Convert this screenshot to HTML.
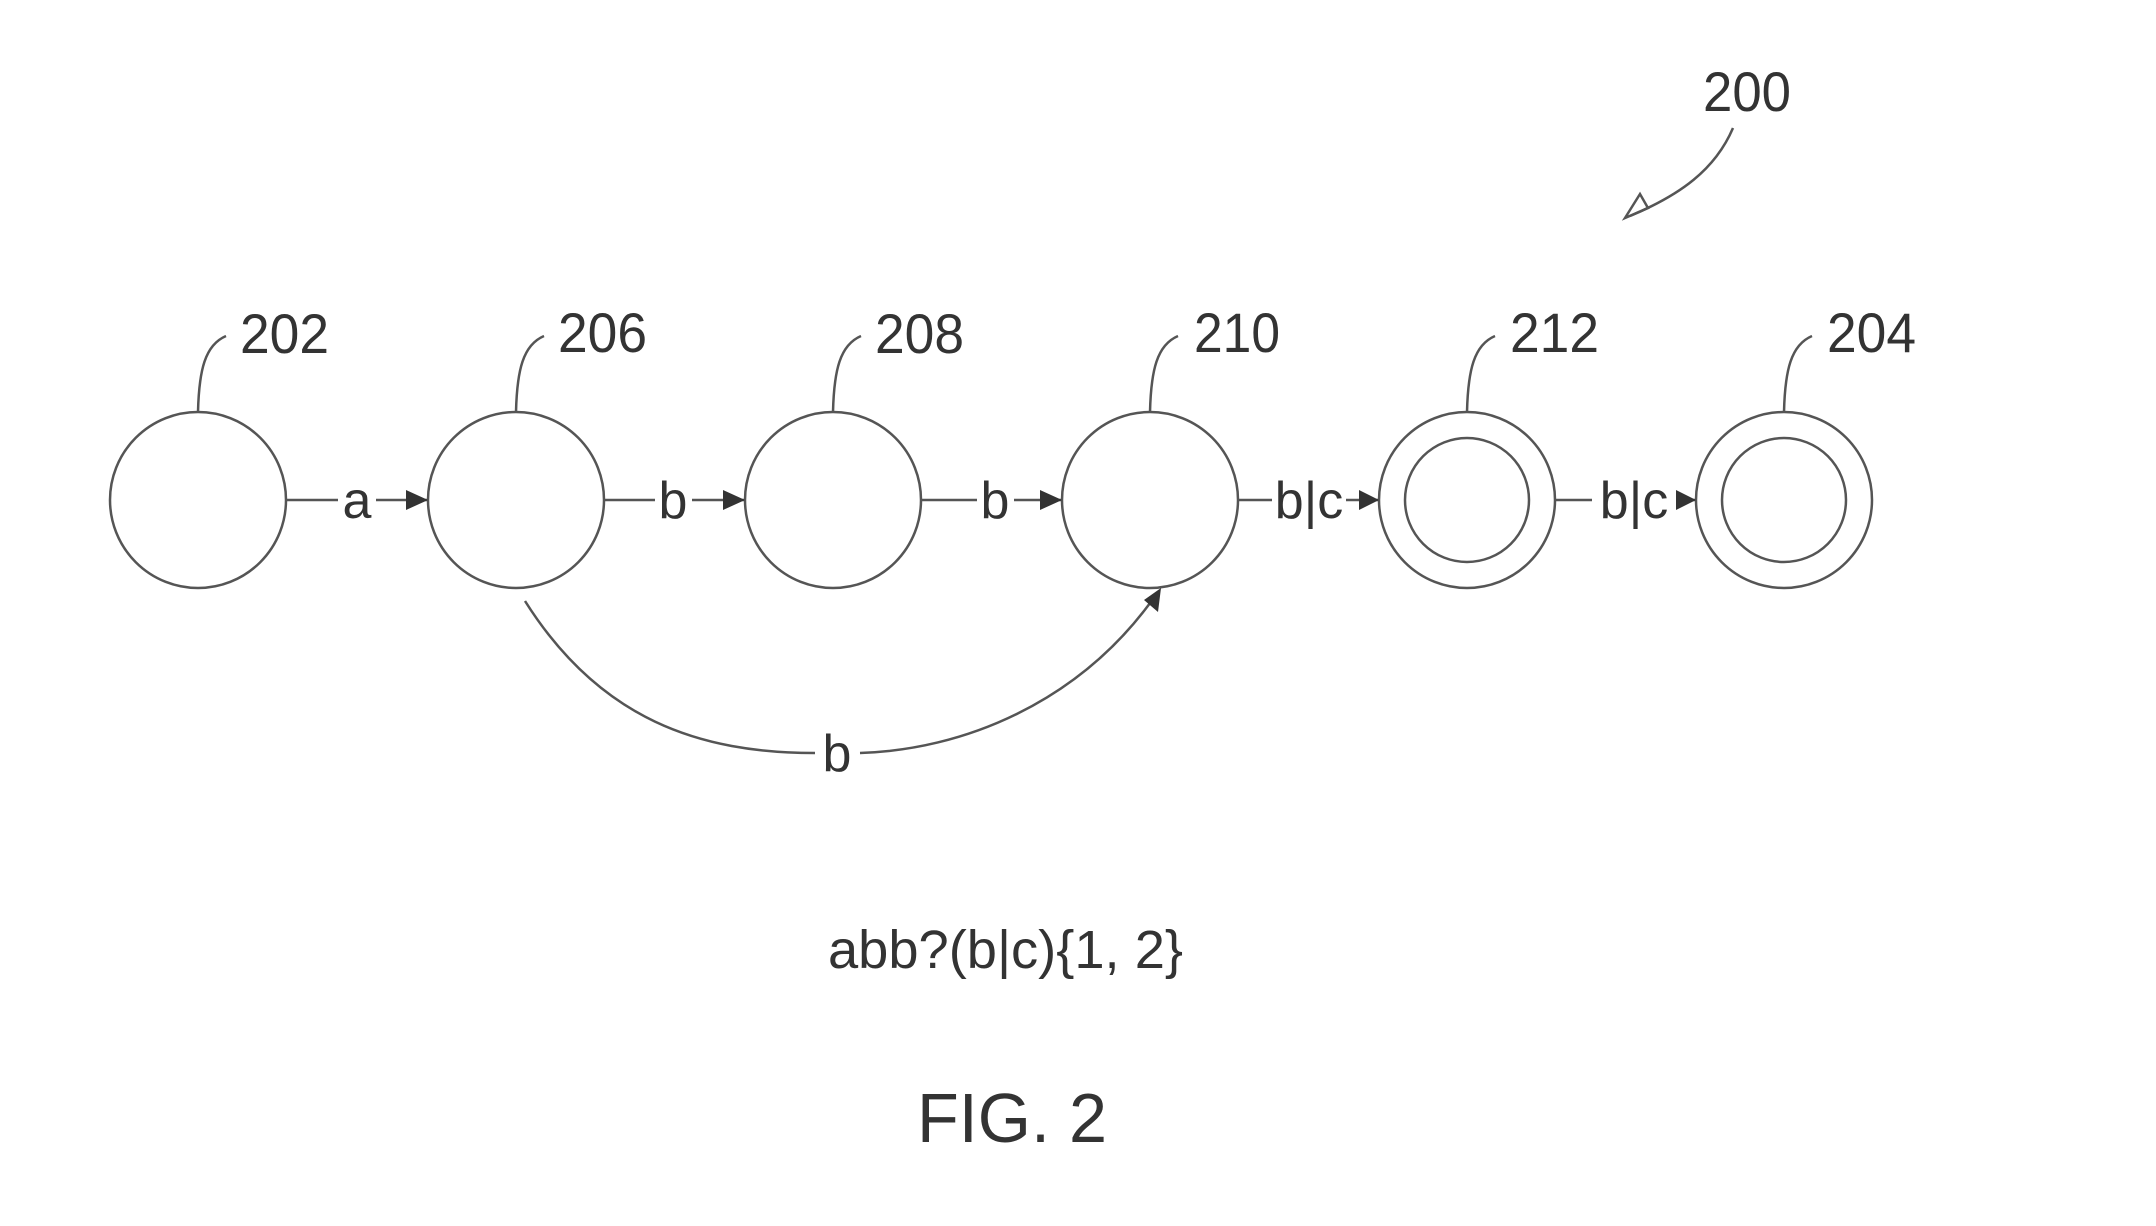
<!DOCTYPE html>
<html><head><meta charset="utf-8"><style>
html,body{margin:0;padding:0;background:#fff;}
svg{display:block;}
text{font-family:"Liberation Sans",Arial,sans-serif;fill:#333;}
</style></head><body>
<svg width="2156" height="1226" viewBox="0 0 2156 1226" xmlns="http://www.w3.org/2000/svg">
<defs>
<marker id="ah" markerWidth="10" markerHeight="10" refX="9" refY="5" orient="auto" markerUnits="userSpaceOnUse" viewBox="0 0 10 10">
<path d="M0,0 L10,5 L0,10 z" fill="#333"/>
</marker>
</defs>
<g fill="none" stroke="#555" stroke-width="2.5">
<circle cx="198" cy="500" r="88"/>
<circle cx="516" cy="500" r="88"/>
<circle cx="833" cy="500" r="88"/>
<circle cx="1150" cy="500" r="88"/>
<circle cx="1467" cy="500" r="88"/>
<circle cx="1467" cy="500" r="62"/>
<circle cx="1784" cy="500" r="88"/>
<circle cx="1784" cy="500" r="62"/>
<!-- leader lines -->
<path d="M198 412 C199 370 205 345 226 336"/>
<path d="M516 412 C517 370 523 345 544 336"/>
<path d="M833 412 C834 370 840 345 861 336"/>
<path d="M1150 412 C1151 370 1157 345 1178 336"/>
<path d="M1467 412 C1468 370 1474 345 1495 336"/>
<path d="M1784 412 C1785 370 1791 345 1812 336"/>
<!-- 200 arrow -->
<path d="M1733 128 C1715 170 1680 195 1630 216"/>
<path d="M1625 218 L1640 194 L1648 208 Z" stroke-width="2.5"/>
<!-- edges -->
<path d="M286 500 H338 M376 500 H428" />
<path d="M604 500 H655 M692 500 H745" />
<path d="M921 500 H977 M1014 500 H1062" />
<path d="M1238 500 H1272 M1346 500 H1379" />
<path d="M1555 500 H1592 M1676 500 H1696" />
<path d="M525 601 C600 720 700 753 815 753"/>
<path d="M860 753 C960 750 1080 705 1158 592"/>
</g>
<g fill="#333">
<path d="M428 500 L406 490 L406 510 Z"/>
<path d="M745 500 L723 490 L723 510 Z"/>
<path d="M1062 500 L1040 490 L1040 510 Z"/>
<path d="M1379 500 L1359 490 L1359 510 Z"/>
<path d="M1696 500 L1676 490 L1676 510 Z"/>
<path d="M1161 588 L1144 600 L1158 612 Z"/>
</g>
<g font-size="56">
<text x="240" y="353" textLength="89" lengthAdjust="spacingAndGlyphs">202</text>
<text x="558" y="352" textLength="89" lengthAdjust="spacingAndGlyphs">206</text>
<text x="875" y="353" textLength="89" lengthAdjust="spacingAndGlyphs">208</text>
<text x="1194" y="352" textLength="86" lengthAdjust="spacingAndGlyphs">210</text>
<text x="1510" y="352" textLength="89" lengthAdjust="spacingAndGlyphs">212</text>
<text x="1827" y="352" textLength="89" lengthAdjust="spacingAndGlyphs">204</text>
<text x="1703" y="111" textLength="88" lengthAdjust="spacingAndGlyphs">200</text>
</g>
<g font-size="52" text-anchor="middle">
<text x="357" y="518">a</text>
<text x="673" y="518">b</text>
<text x="995" y="518">b</text>
<text x="1309" y="518">b|c</text>
<text x="1634" y="518">b|c</text>
<text x="837" y="771">b</text>
</g>
<text x="828" y="968" font-size="54" textLength="355" lengthAdjust="spacingAndGlyphs">abb?(b|c){1, 2}</text>
<text x="917" y="1142" font-size="70" textLength="190" lengthAdjust="spacingAndGlyphs">FIG. 2</text>
</svg>
</body></html>
